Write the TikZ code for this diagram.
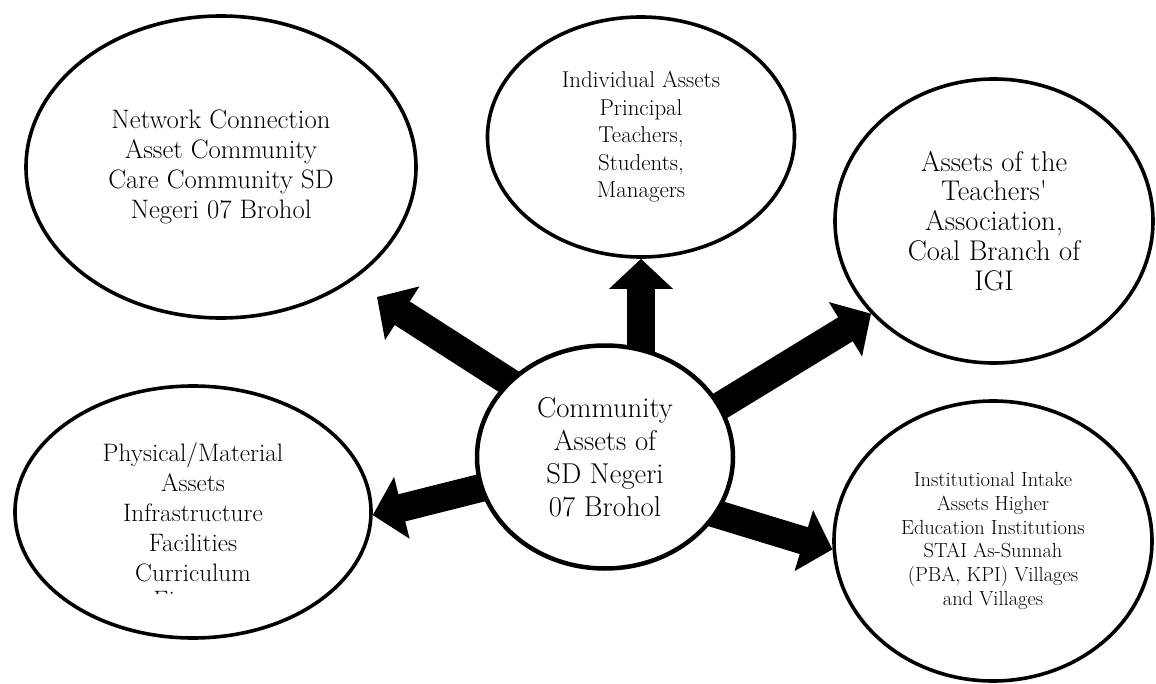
\documentclass[tikz,border=0pt]{standalone}
\usetikzlibrary{shapes.geometric,arrows.meta,calc,backgrounds}
\begin{document}
\begin{tikzpicture}[x=1bp,y=-1bp,
  bubble/.style={ellipse,draw,line width=3.6bp,inner sep=0pt,align=center},
  hub/.style={bubble,line width=4.5bp,fill=white},
  blockarrow/.style={line width=28bp,-{Triangle[length=30bp,width=62bp]}}]
\useasboundingbox (0,0) rectangle (1156,684);
\node[bubble,minimum width=390bp,minimum height=302bp,font=\fontsize{26.8}{30}\selectfont] (e1) at (221,167)
  {Network Connection\\Asset Community\\Care Community SD\\Negeri 07 Brohol};
\node[bubble,minimum width=307bp,minimum height=240bp,font=\fontsize{23}{27.5}\selectfont] (e2) at (641,137)
  {Individual Assets\\Principal\\Teachers,\\Students,\\Managers};
\node[bubble,minimum width=318bp,minimum height=284bp,font=\fontsize{28.6}{30}\selectfont] (e3) at (994,221)
  {Assets of the\\Teachers\textquotesingle\\Association,\\Coal Branch of\\IGI};
\node[bubble,minimum width=356bp,minimum height=252bp,font=\fontsize{25.3}{30}\selectfont] (e4) at (193,512)
  {Physical/Material\\Assets\\Infrastructure\\Facilities\\Curriculum};
\node[bubble,minimum width=318bp,minimum height=280bp,font=\fontsize{20.5}{24}\selectfont] (e5) at (993,541)
  {Institutional Intake\\Assets Higher\\Education Institutions\\STAI As-Sunnah\\(PBA, KPI) Villages\\and Villages};
\node[hub,minimum width=256bp,minimum height=223bp,font=\fontsize{28.8}{33}\selectfont] (c) at (605,457)
  {Community\\Assets of\\SD Negeri\\07 Brohol};
\begin{scope}
  \clip (100,585) rectangle (300,593.5);
  \node[anchor=base,inner sep=0pt,font=\fontsize{25.3}{30}\selectfont] (fin) at (193,608) {Finance};
\end{scope}
\begin{scope}[on background layer]
  \coordinate (t1) at (377,297);
  \draw[blockarrow] ($(c.142)!-30bp!(t1)$) -- (t1);
  \draw[blockarrow] (e2.south |- c.center) -- (e2.south);
  \draw[blockarrow] ($(c.24)!-30bp!(e3.217)$) -- (e3.217);
  \draw[blockarrow] ($(c.194)!-30bp!(e4.-1)$) -- (e4.-1);
  \draw[blockarrow] ($(c.-27)!-30bp!(e5.183)$) -- (e5.183);
\end{scope}
\end{tikzpicture}
\end{document}
